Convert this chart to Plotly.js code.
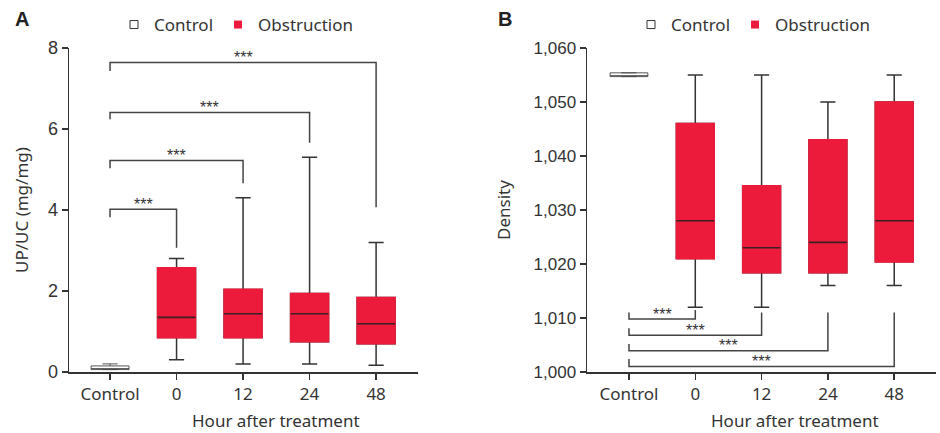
<!DOCTYPE html>
<html>
<head>
<meta charset="utf-8">
<script src="https://cdn.plot.ly/plotly-3.0.1.min.js"></script>
<style>html,body{margin:0;padding:0;background:#fff}#chart{width:940px;height:433px}</style>
</head>
<body>
<div id="chart"></div>
<script>
// ---------- data ----------
const categories = ["Control", "0", "12", "24", "48"];
const xTitle = "Hour after treatment";

// Panel A: UP/UC (mg/mg)
const upucLower  = [0.06, 0.30, 0.20, 0.20, 0.165];
const upucQ1     = [0.06, 0.85, 0.85, 0.75, 0.70];
const upucMedian = [0.06, 1.35, 1.44, 1.44, 1.19];
const upucQ3     = [0.15, 2.57, 2.04, 1.94, 1.84];
const upucUpper  = [0.20, 2.80, 4.30, 5.30, 3.20];
const upucTicks  = [0, 2, 4, 6, 8];
// significance brackets (Control vs 0/12/24/48)
const sigA_level = [4.02, 5.22, 6.41, 7.64];
const sigA_left  = [3.82, 5.03, 6.24, 7.43];
const sigA_right = [3.07, 4.66, 5.66, 4.07];
const sigA_label = ["***", "***", "***", "***"];

// Panel B: Density
const densLower  = [1054.7, 1012, 1012, 1016, 1016];
const densQ1     = [1054.7, 1021, 1018.4, 1018.4, 1020.4];
const densMedian = [1054.7, 1028, 1023, 1024, 1028];
const densQ3     = [1055.4, 1046, 1034.5, 1043, 1050];
const densUpper  = [1055.4, 1055, 1055, 1050, 1055];
const densTicks  = [1000, 1010, 1020, 1030, 1040, 1050, 1060];
const sigB_level = [1009.8, 1006.8, 1003.95, 1001.0];
const sigB_left  = [1011.0, 1008.1, 1005.2, 1002.4];
const sigB_right = [1011.5, 1011.0, 1011.0, 1011.0];
const sigB_label = ["***", "***", "***", "***"];

// ---------- styles ----------
const RED = "#ED1B3B";
const DARK = "#333333";
const MED = "#3b2126";
const BOXW = 0.57;
const TICKFONT = "Noto Sans, sans-serif";
const NUMFONT = "Liberation Sans, Arial, sans-serif";

const xpos = categories.map((c, i) => i);
const obsIdx = [1, 2, 3, 4];
const pick = (arr, idx) => idx.map(i => arr[i]);

function panelTraces(xa, ya, lo, q1, med, q3, hi, legendId) {
  const t = [];
  // control box (white)
  t.push({type: "box", xaxis: xa, yaxis: ya, x: [0], lowerfence: [lo[0]], q1: [q1[0]],
    median: [med[0]], q3: [q3[0]], upperfence: [hi[0]], width: BOXW, whiskerwidth: 0.4,
    fillcolor: "#ffffff", line: {color: "#444444", width: 0.9}, showlegend: false, hoverinfo: "skip"});
  // obstruction boxes: whiskers (dark)
  t.push({type: "box", xaxis: xa, yaxis: ya, x: obsIdx, lowerfence: pick(lo, obsIdx), q1: pick(q1, obsIdx),
    median: pick(med, obsIdx), q3: pick(q3, obsIdx), upperfence: pick(hi, obsIdx), width: BOXW, whiskerwidth: 0.4,
    fillcolor: RED, line: {color: DARK, width: 1.5}, showlegend: false, hoverinfo: "skip"});
  // red body covering the dark outline
  t.push({type: "box", xaxis: xa, yaxis: ya, x: obsIdx, lowerfence: pick(q1, obsIdx), q1: pick(q1, obsIdx),
    median: pick(q1, obsIdx), q3: pick(q3, obsIdx), upperfence: pick(q3, obsIdx), width: BOXW, whiskerwidth: 0,
    fillcolor: RED, line: {color: RED, width: 1.6}, showlegend: false, hoverinfo: "skip"});
  // medians
  const mx = [], my = [];
  obsIdx.forEach(i => { mx.push(i - BOXW / 2, i + BOXW / 2, null); my.push(med[i], med[i], null); });
  t.push({type: "scatter", mode: "lines", xaxis: xa, yaxis: ya, x: mx, y: my,
    line: {color: MED, width: 1.6}, showlegend: false, hoverinfo: "skip"});
  // legend entries
  t.push({type: "scatter", mode: "markers", xaxis: xa, yaxis: ya, x: [null], y: [null], name: "Control",
    marker: {symbol: "square", size: 8, color: "#ffffff", line: {color: DARK, width: 1}}, legend: legendId});
  t.push({type: "scatter", mode: "markers", xaxis: xa, yaxis: ya, x: [null], y: [null], name: "Obstruction",
    marker: {symbol: "square", size: 8, color: RED, line: {width: 0}}, legend: legendId});
  return t;
}

function bracketTrace(xa, ya, level, left, right) {
  const bx = [], by = [];
  level.forEach((lv, k) => {
    const r = k + 1;
    bx.push(0, 0, r, r, null);
    by.push(left[k], lv, lv, right[k], null);
  });
  return {type: "scatter", mode: "lines", xaxis: xa, yaxis: ya, x: bx, y: by,
    line: {color: "#444444", width: 1.5}, showlegend: false, hoverinfo: "skip"};
}

const data = [
  ...panelTraces("x", "y", upucLower, upucQ1, upucMedian, upucQ3, upucUpper, "legend"),
  bracketTrace("x", "y", sigA_level, sigA_left, sigA_right),
  ...panelTraces("x2", "y2", densLower, densQ1, densMedian, densQ3, densUpper, "legend2"),
  bracketTrace("x2", "y2", sigB_level, sigB_left, sigB_right)
];

const annotations = [];
sigA_level.forEach((lv, k) => annotations.push({xref: "x", yref: "y", x: (k + 1) / 2, y: lv, text: sigA_label[k],
  showarrow: false, yanchor: "middle", yshift: 5, font: {family: NUMFONT, size: 16, color: DARK}}));
sigB_level.forEach((lv, k) => annotations.push({xref: "x2", yref: "y2", x: (k + 1) / 2, y: lv, text: sigB_label[k],
  showarrow: false, yanchor: "middle", yshift: 5, font: {family: NUMFONT, size: 16, color: DARK}}));
// panel labels
annotations.push({xref: "paper", yref: "paper", x: 13 / 940, y: 1 - 19 / 433, xanchor: "left", yanchor: "middle",
  text: "<b>A</b>", showarrow: false, font: {family: NUMFONT, size: 20, color: "#222"}});
annotations.push({xref: "paper", yref: "paper", x: 496 / 940, y: 1 - 19 / 433, xanchor: "left", yanchor: "middle",
  text: "<b>B</b>", showarrow: false, font: {family: NUMFONT, size: 20, color: "#222"}});
// axis titles
annotations.push({xref: "paper", yref: "paper", x: 21 / 940, y: 1 - 210 / 433, xanchor: "center", yanchor: "middle",
  textangle: -90, text: "UP/UC (mg/mg)", showarrow: false, font: {family: TICKFONT, size: 17, color: DARK}});
annotations.push({xref: "paper", yref: "paper", x: 503 / 940, y: 1 - 210 / 433, xanchor: "center", yanchor: "middle",
  textangle: -90, text: "Density", showarrow: false, font: {family: TICKFONT, size: 17, color: DARK}});
annotations.push({xref: "x", yref: "paper", x: 2.5, y: 1 - 420 / 433, xanchor: "center", yanchor: "middle",
  text: xTitle, showarrow: false, font: {family: TICKFONT, size: 17, color: DARK}});
annotations.push({xref: "x2", yref: "paper", x: 2.5, y: 1 - 420 / 433, xanchor: "center", yanchor: "middle",
  text: xTitle, showarrow: false, font: {family: TICKFONT, size: 17, color: DARK}});

const axCommon = {showline: true, linecolor: DARK, linewidth: 1.5, ticks: "outside", ticklen: 6, tickwidth: 1.5,
  tickcolor: DARK, showgrid: false, zeroline: false, fixedrange: true};

const yTop = 1 - 48 / 433, yBot = 1 - 372 / 433;
const layout = {
  width: 940, height: 433, margin: {l: 0, r: 0, t: 0, b: 0},
  paper_bgcolor: "#fff", plot_bgcolor: "#fff", boxmode: "overlay",
  xaxis: {...axCommon, domain: [69 / 940, 418 / 940], range: [-0.617, 4.63], tickvals: xpos, ticktext: categories,
    tickfont: {family: TICKFONT, size: 17, color: DARK}, anchor: "y"},
  yaxis: {...axCommon, domain: [yBot, yTop], range: [0, 8], tickvals: upucTicks,
    tickfont: {family: NUMFONT, size: 18, color: DARK}, anchor: "x"},
  xaxis2: {...axCommon, domain: [587 / 940, 936 / 940], range: [-0.633, 4.63], tickvals: xpos, ticktext: categories,
    tickfont: {family: TICKFONT, size: 17, color: DARK}, anchor: "y2"},
  yaxis2: {...axCommon, domain: [yBot, yTop], range: [1000, 1060], tickvals: densTicks, tickformat: ",d",
    tickfont: {family: NUMFONT, size: 17, color: DARK}, anchor: "x2"},
  legend: {orientation: "h", x: 114 / 940, y: 1 - 25 / 433, xanchor: "left", yanchor: "middle",
    font: {family: TICKFONT, size: 17, color: DARK}, bgcolor: "rgba(0,0,0,0)", itemwidth: 30},
  legend2: {orientation: "h", x: 631 / 940, y: 1 - 25 / 433, xanchor: "left", yanchor: "middle",
    font: {family: TICKFONT, size: 17, color: DARK}, bgcolor: "rgba(0,0,0,0)", itemwidth: 30},
  annotations: annotations
};

Plotly.newPlot("chart", data, layout, {displayModeBar: false, staticPlot: true});
</script>
</body>
</html>
